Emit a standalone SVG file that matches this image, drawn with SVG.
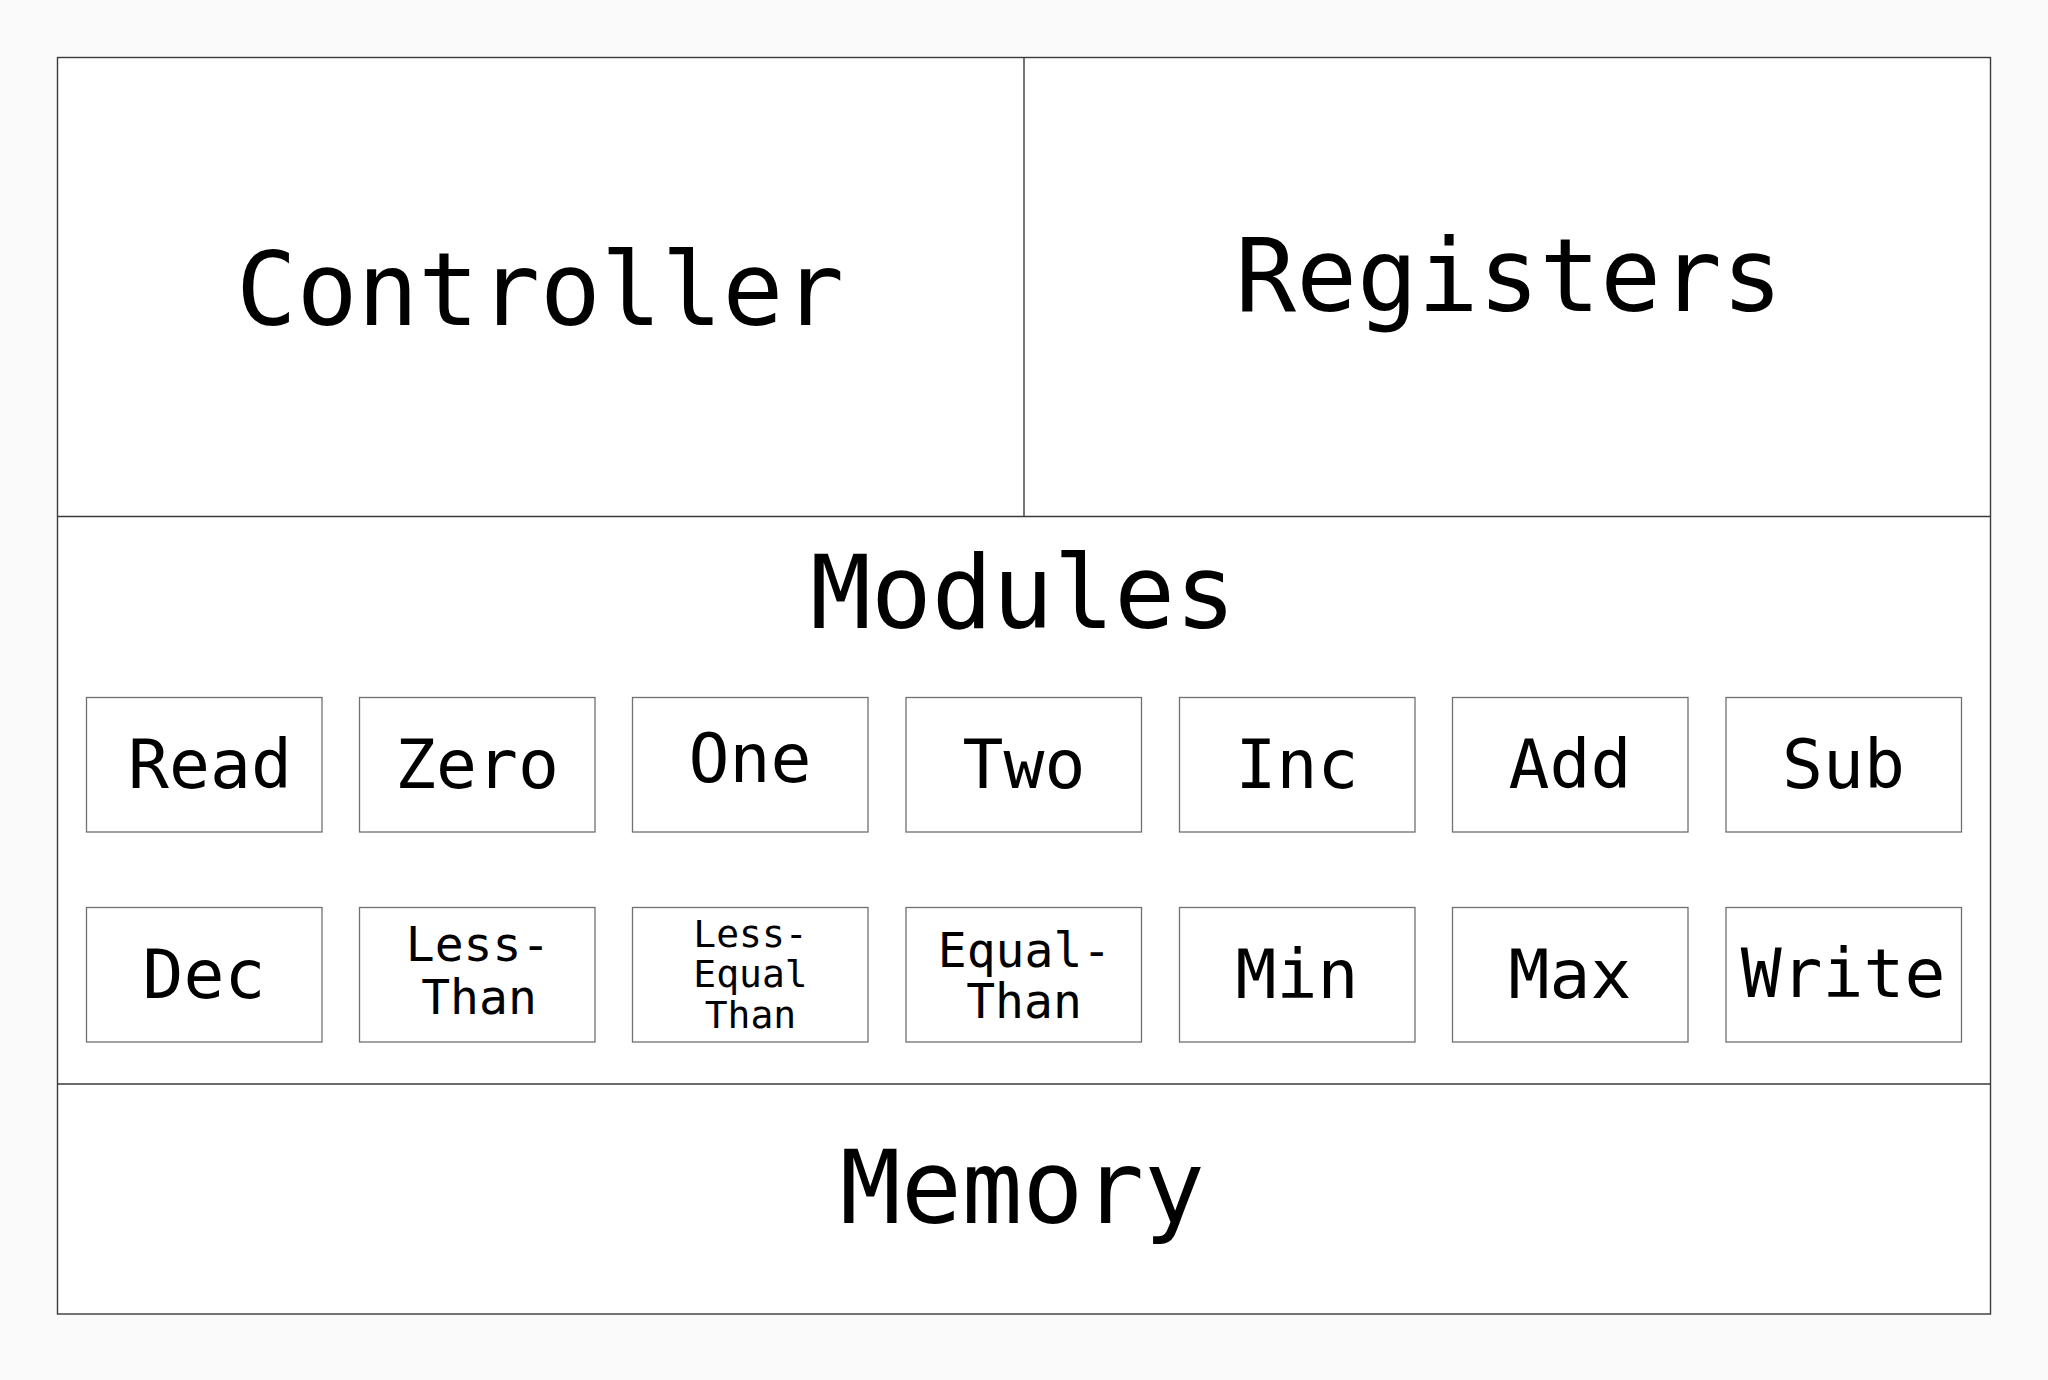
<svg xmlns="http://www.w3.org/2000/svg" width="2048" height="1380" viewBox="0 0 2048 1380">
<style>
.frame{fill:#ffffff;stroke:#3a3a3a;stroke-width:1.4}
.sep{stroke:#3a3a3a;stroke-width:1.4;fill:none}
.box{fill:#ffffff;stroke:#707070;stroke-width:1.3}
text{font-family:"DejaVu Sans Mono","Liberation Mono",monospace;fill:#000000;text-anchor:middle}
.title{font-size:101px}
.lbl{font-size:68px}
.lbl2{font-size:48px}
.lbl3{font-size:38px}
</style>
<rect x="0" y="0" width="2048" height="1380" fill="#fafafa"/>
<g id="frame">
<rect class="frame" x="57.5" y="57.5" width="1933" height="1256.5"/>
</g>
<g id="connectors">
<line class="sep" x1="1024" y1="57.5" x2="1024" y2="516.5"/>
<line class="sep" x1="57.5" y1="516.5" x2="1990.5" y2="516.5"/>
<line class="sep" x1="57.5" y1="1084" x2="1990.5" y2="1084"/>
</g>
<g id="controller"><text class="title" x="540" y="325">Controller</text></g>
<g id="registers"><text class="title" x="1509" y="311">Registers</text></g>
<g id="modules"><text class="title" x="1023" y="628">Modules</text></g>
<g id="memory"><text class="title" x="1022.5" y="1223">Memory</text></g>
<g id="mod-read"><rect class="box" x="86.5" y="697.5" width="235.5" height="134.5"/><text class="lbl" x="210" y="788">Read</text></g>
<g id="mod-zero"><rect class="box" x="359.5" y="697.5" width="235.5" height="134.5"/><text class="lbl" x="477" y="788">Zero</text></g>
<g id="mod-one"><rect class="box" x="632.5" y="697.5" width="235.5" height="134.5"/><text class="lbl" x="750" y="782">One</text></g>
<g id="mod-two"><rect class="box" x="906" y="697.5" width="235.5" height="134.5"/><text class="lbl" x="1024" y="788">Two</text></g>
<g id="mod-inc"><rect class="box" x="1179.5" y="697.5" width="235.5" height="134.5"/><text class="lbl" x="1297" y="788">Inc</text></g>
<g id="mod-add"><rect class="box" x="1452.5" y="697.5" width="235.5" height="134.5"/><text class="lbl" x="1570" y="788">Add</text></g>
<g id="mod-sub"><rect class="box" x="1726" y="697.5" width="235.5" height="134.5"/><text class="lbl" x="1843.5" y="788">Sub</text></g>
<g id="mod-dec"><rect class="box" x="86.5" y="907.5" width="235.5" height="134.5"/><text class="lbl" x="204" y="998">Dec</text></g>
<g id="mod-less-than"><rect class="box" x="359.5" y="907.5" width="235.5" height="134.5"/><text class="lbl2" x="478" y="961">Less-</text><text class="lbl2" x="479" y="1014">Than</text></g>
<g id="mod-less-equal-than"><rect class="box" x="632.5" y="907.5" width="235.5" height="134.5"/><text class="lbl3" x="750.5" y="947">Less-</text><text class="lbl3" x="750.5" y="987">Equal</text><text class="lbl3" x="750.5" y="1028">Than</text></g>
<g id="mod-equal-than"><rect class="box" x="906" y="907.5" width="235.5" height="134.5"/><text class="lbl2" x="1024.5" y="967">Equal-</text><text class="lbl2" x="1024" y="1018">Than</text></g>
<g id="mod-min"><rect class="box" x="1179.5" y="907.5" width="235.5" height="134.5"/><text class="lbl" x="1297" y="998">Min</text></g>
<g id="mod-max"><rect class="box" x="1452.5" y="907.5" width="235.5" height="134.5"/><text class="lbl" x="1570" y="998">Max</text></g>
<g id="mod-write"><rect class="box" x="1726" y="907.5" width="235.5" height="134.5"/><text class="lbl" x="1843" y="997">Write</text></g>
</svg>
